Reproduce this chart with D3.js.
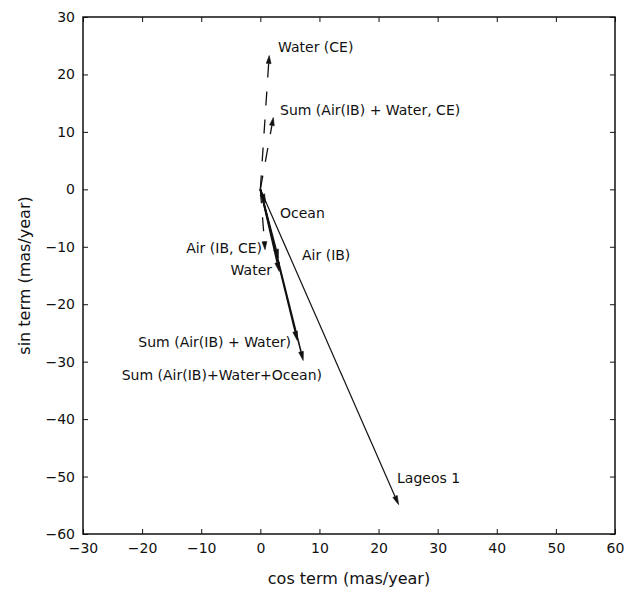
<!DOCTYPE html>
<html>
<head>
<meta charset="utf-8">
<script src="https://cdn.jsdelivr.net/npm/d3@7"></script>
<style>
  html, body { margin: 0; padding: 0; background: #fff; }
  svg { display: block; }
  text { font-family: "DejaVu Sans", "Liberation Sans", Arial, sans-serif; fill: #111; }
</style>
</head>
<body>
<svg id="chart" width="635" height="592"></svg>
<script>
// ---- data ----
const vectorNames = ["Lageos 1", "Air (IB)", "Water", "Sum (Air(IB) + Water)", "Ocean",
  "Sum (Air(IB)+Water+Ocean)", "Water (CE)", "Sum (Air(IB) + Water, CE)", "Air (IB, CE)"];
const cosTerm = [23.4, 3.2, 3.05, 6.25, 0.9, 7.25, 1.5, 2.2, 0.8];
const sinTerm = [-54.9, -14.3, -12.0, -26.3, -2.4, -29.8, 23.3, 12.5, -10.5];
const dashed = [false, false, false, false, false, false, true, true, true];
const xTicks = [-30, -20, -10, 0, 10, 20, 30, 40, 50, 60];
const yTicks = [30, 20, 10, 0, -10, -20, -30, -40, -50, -60];

// ---- layout ----
const svg = d3.select("#chart");
const L = 83, R = 615, T = 17, B = 534;
const x = d3.scaleLinear().domain([-30, 60]).range([L, R]);
const y = d3.scaleLinear().domain([-60, 30]).range([B, T]);
const ink = "#111";

// axes (inward ticks like MATLAB)
const fmt = d => d < 0 ? "\u2212" + Math.abs(d) : String(d);
const axB = svg.append("g").attr("transform", `translate(0,${B})`)
  .call(d3.axisBottom(x).tickValues(xTicks).tickSize(-5).tickPadding(9).tickFormat(fmt));
const axL = svg.append("g").attr("transform", `translate(${L},0)`)
  .call(d3.axisLeft(y).tickValues(yTicks).tickSize(-5).tickPadding(8).tickFormat(fmt));
const axT = svg.append("g").attr("transform", `translate(0,${T})`)
  .call(d3.axisTop(x).tickValues(xTicks).tickSize(-5).tickFormat(""));
const axR = svg.append("g").attr("transform", `translate(${R},0)`)
  .call(d3.axisRight(y).tickValues(yTicks).tickSize(-5).tickFormat(""));
[axB, axL, axT, axR].forEach(a => {
  a.select(".domain").remove();
  a.selectAll(".tick line").attr("stroke", ink).attr("stroke-width", 1);
  a.selectAll(".tick text").attr("font-size", 14).attr("fill", ink)
    .style("font-family", "'DejaVu Sans', sans-serif");
});
svg.append("rect").attr("x", L).attr("y", T).attr("width", R - L).attr("height", B - T)
  .attr("fill", "none").attr("stroke", ink).attr("stroke-width", 1.5);

// axis titles
svg.append("text").attr("x", (L + R) / 2).attr("y", 584).attr("text-anchor", "middle")
  .attr("font-size", 16).text("cos term (mas/year)");
svg.append("text").attr("transform", `translate(30,${(T + B) / 2}) rotate(-90)`)
  .attr("text-anchor", "middle").attr("font-size", 16).text("sin term (mas/year)");

// ---- vectors ----
const vecs = vectorNames.map((n, i) => ({ name: n, cx: cosTerm[i], sy: sinTerm[i], dash: dashed[i] }));
const g = svg.append("g");
vecs.forEach(v => {
  const x0 = x(0), y0 = y(0), x1 = x(v.cx), y1 = y(v.sy);
  const ang = Math.atan2(y1 - y0, x1 - x0);
  const hl = v.dash ? 8 : 9, hw = 2.4;
  const bx = x1 - hl * Math.cos(ang), by = y1 - hl * Math.sin(ang);
  g.append("line").attr("x1", x0).attr("y1", y0).attr("x2", bx).attr("y2", by)
    .attr("stroke", ink)
    .attr("stroke-width", v.name === "Lageos 1" ? 1.2 : (v.dash ? 1.3 : 1.6))
    .attr("stroke-dasharray", v.dash ? "14,14" : null);
  const px = -Math.sin(ang), py = Math.cos(ang);
  g.append("path")
    .attr("d", `M${x1},${y1}L${bx + hw * px},${by + hw * py}L${bx - hw * px},${by - hw * py}Z`)
    .attr("fill", ink).attr("stroke", ink).attr("stroke-width", 0.6);
});

// ---- labels ----
const labelNames = ["Water (CE)", "Sum (Air(IB) + Water, CE)", "Ocean", "Air (IB, CE)", "Air (IB)",
  "Water", "Sum (Air(IB) + Water)", "Sum (Air(IB)+Water+Ocean)", "Lageos 1"];
const labelX = [278, 280, 280, 262, 302, 272, 291, 322, 397];
const labelY = [52, 115, 218, 253, 260, 275, 347, 380, 483];
const labelAnchor = ["start", "start", "start", "end", "start", "end", "end", "end", "start"];
labelNames.forEach((t, i) => {
  svg.append("text").attr("x", labelX[i]).attr("y", labelY[i])
    .attr("text-anchor", labelAnchor[i]).attr("font-size", 14).text(t);
});
</script>
</body>
</html>
